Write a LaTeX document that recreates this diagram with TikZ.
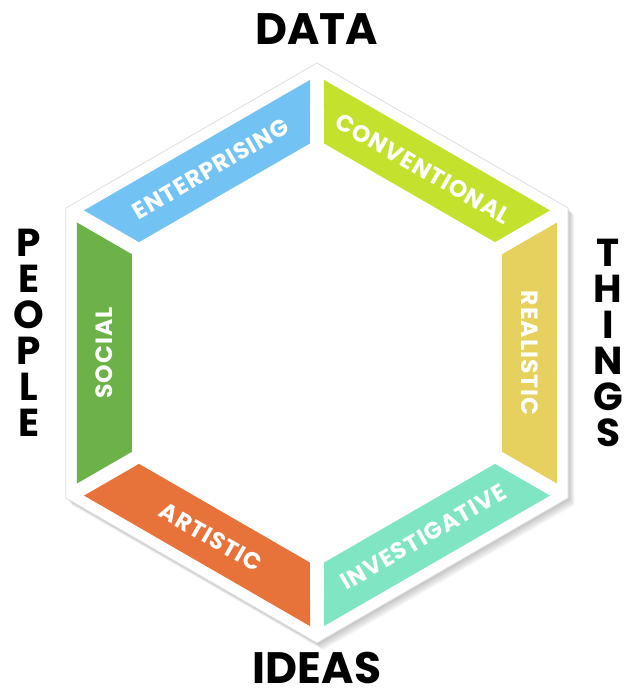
\documentclass[tikz,border=0pt]{standalone}
\usepackage{fontspec}
\setmainfont{Poppins}
\newfontfamily\bandfont[LetterSpace=4]{Poppins}
\usetikzlibrary{positioning}
\definecolor{entblue}{HTML}{72C3F3}
\definecolor{conlime}{HTML}{C4E12E}
\definecolor{reayellow}{HTML}{E6D05E}
\definecolor{invmint}{HTML}{80E5C3}
\definecolor{artorange}{HTML}{E8733A}
\definecolor{socgreen}{HTML}{6CB249}
\tikzset{%
  band/.style={fill=#1},
  bandtext/.style={text=white, inner sep=0pt, font={\bandfont\bfseries\fontsize{23.5}{23.5}\selectfont}},
  sidetext/.style={inner sep=0pt, align=center, font={\bfseries\fontsize{44}{42}\selectfont}},
  stacktext/.style={inner sep=0pt, align=center, font={\bfseries\fontsize{39}{36}\selectfont}}
}

\begin{document}
\begin{tikzpicture}[x=1pt,y=1pt]
  \useasboundingbox (-317,-341) rectangle (307,353);

  % soft shadow
  \foreach \o in {1,...,8}
    \fill[black, opacity=0.03, shift={(0.8*\o,-0.9*\o)}] (90:290) -- (150:290) -- (210:290) -- (270:290) -- (330:290) -- (30:290) -- cycle;

  \coordinate (v1) at (90:290);
  \coordinate (v2) at (150:290);
  \coordinate (v3) at (210:290);
  \coordinate (v4) at (270:290);
  \coordinate (v5) at (330:290);
  \coordinate (v6) at (30:290);
  \filldraw[fill=white, draw=gray!25, line width=0.8] (v1) -- (v2) -- (v3) -- (v4) -- (v5) -- (v6) -- cycle;

  % bands
  \fill[band=entblue, rotate=120] (240,-130.5) -- (240,130.5) -- (185,98.7) -- (185,-98.7) -- cycle;
  \fill[band=conlime, rotate=60] (240,-130.5) -- (240,130.5) -- (185,98.7) -- (185,-98.7) -- cycle;
  \fill[band=reayellow, rotate=0] (240,-130.5) -- (240,130.5) -- (185,98.7) -- (185,-98.7) -- cycle;
  \fill[band=invmint, rotate=300] (240,-130.5) -- (240,130.5) -- (185,98.7) -- (185,-98.7) -- cycle;
  \fill[band=artorange, rotate=240] (240,-130.5) -- (240,130.5) -- (185,98.7) -- (185,-98.7) -- cycle;
  \fill[band=socgreen, rotate=180] (240,-130.5) -- (240,130.5) -- (185,98.7) -- (185,-98.7) -- cycle;

  \node[bandtext, rotate=30] (ent) at (120:212.5) {ENTERPRISING};
  \node[bandtext, rotate=-30] (con) at (60:212.5) {CONVENTIONAL};
  \node[bandtext, rotate=-90] (rea) at (0:212.5) {REALISTIC};
  \node[bandtext, rotate=30] (inv) at (300:212.5) {INVESTIGATIVE};
  \node[bandtext, rotate=-30] (art) at (240:212.5) {ARTISTIC};
  \node[bandtext, rotate=90] (soc) at (180:212.5) {SOCIAL};

  % outer labels
  \node[sidetext, above=18pt of v1] (data) {DATA};
  \node[sidetext, below=9pt of v4] (ideas) {IDEAS};
  \node[stacktext] (people) at (-288,20) {P\\E\\O\\P\\L\\E};
  \node[stacktext] (things) at (291,10) {T\\H\\I\\N\\G\\S};
\end{tikzpicture}
\end{document}
